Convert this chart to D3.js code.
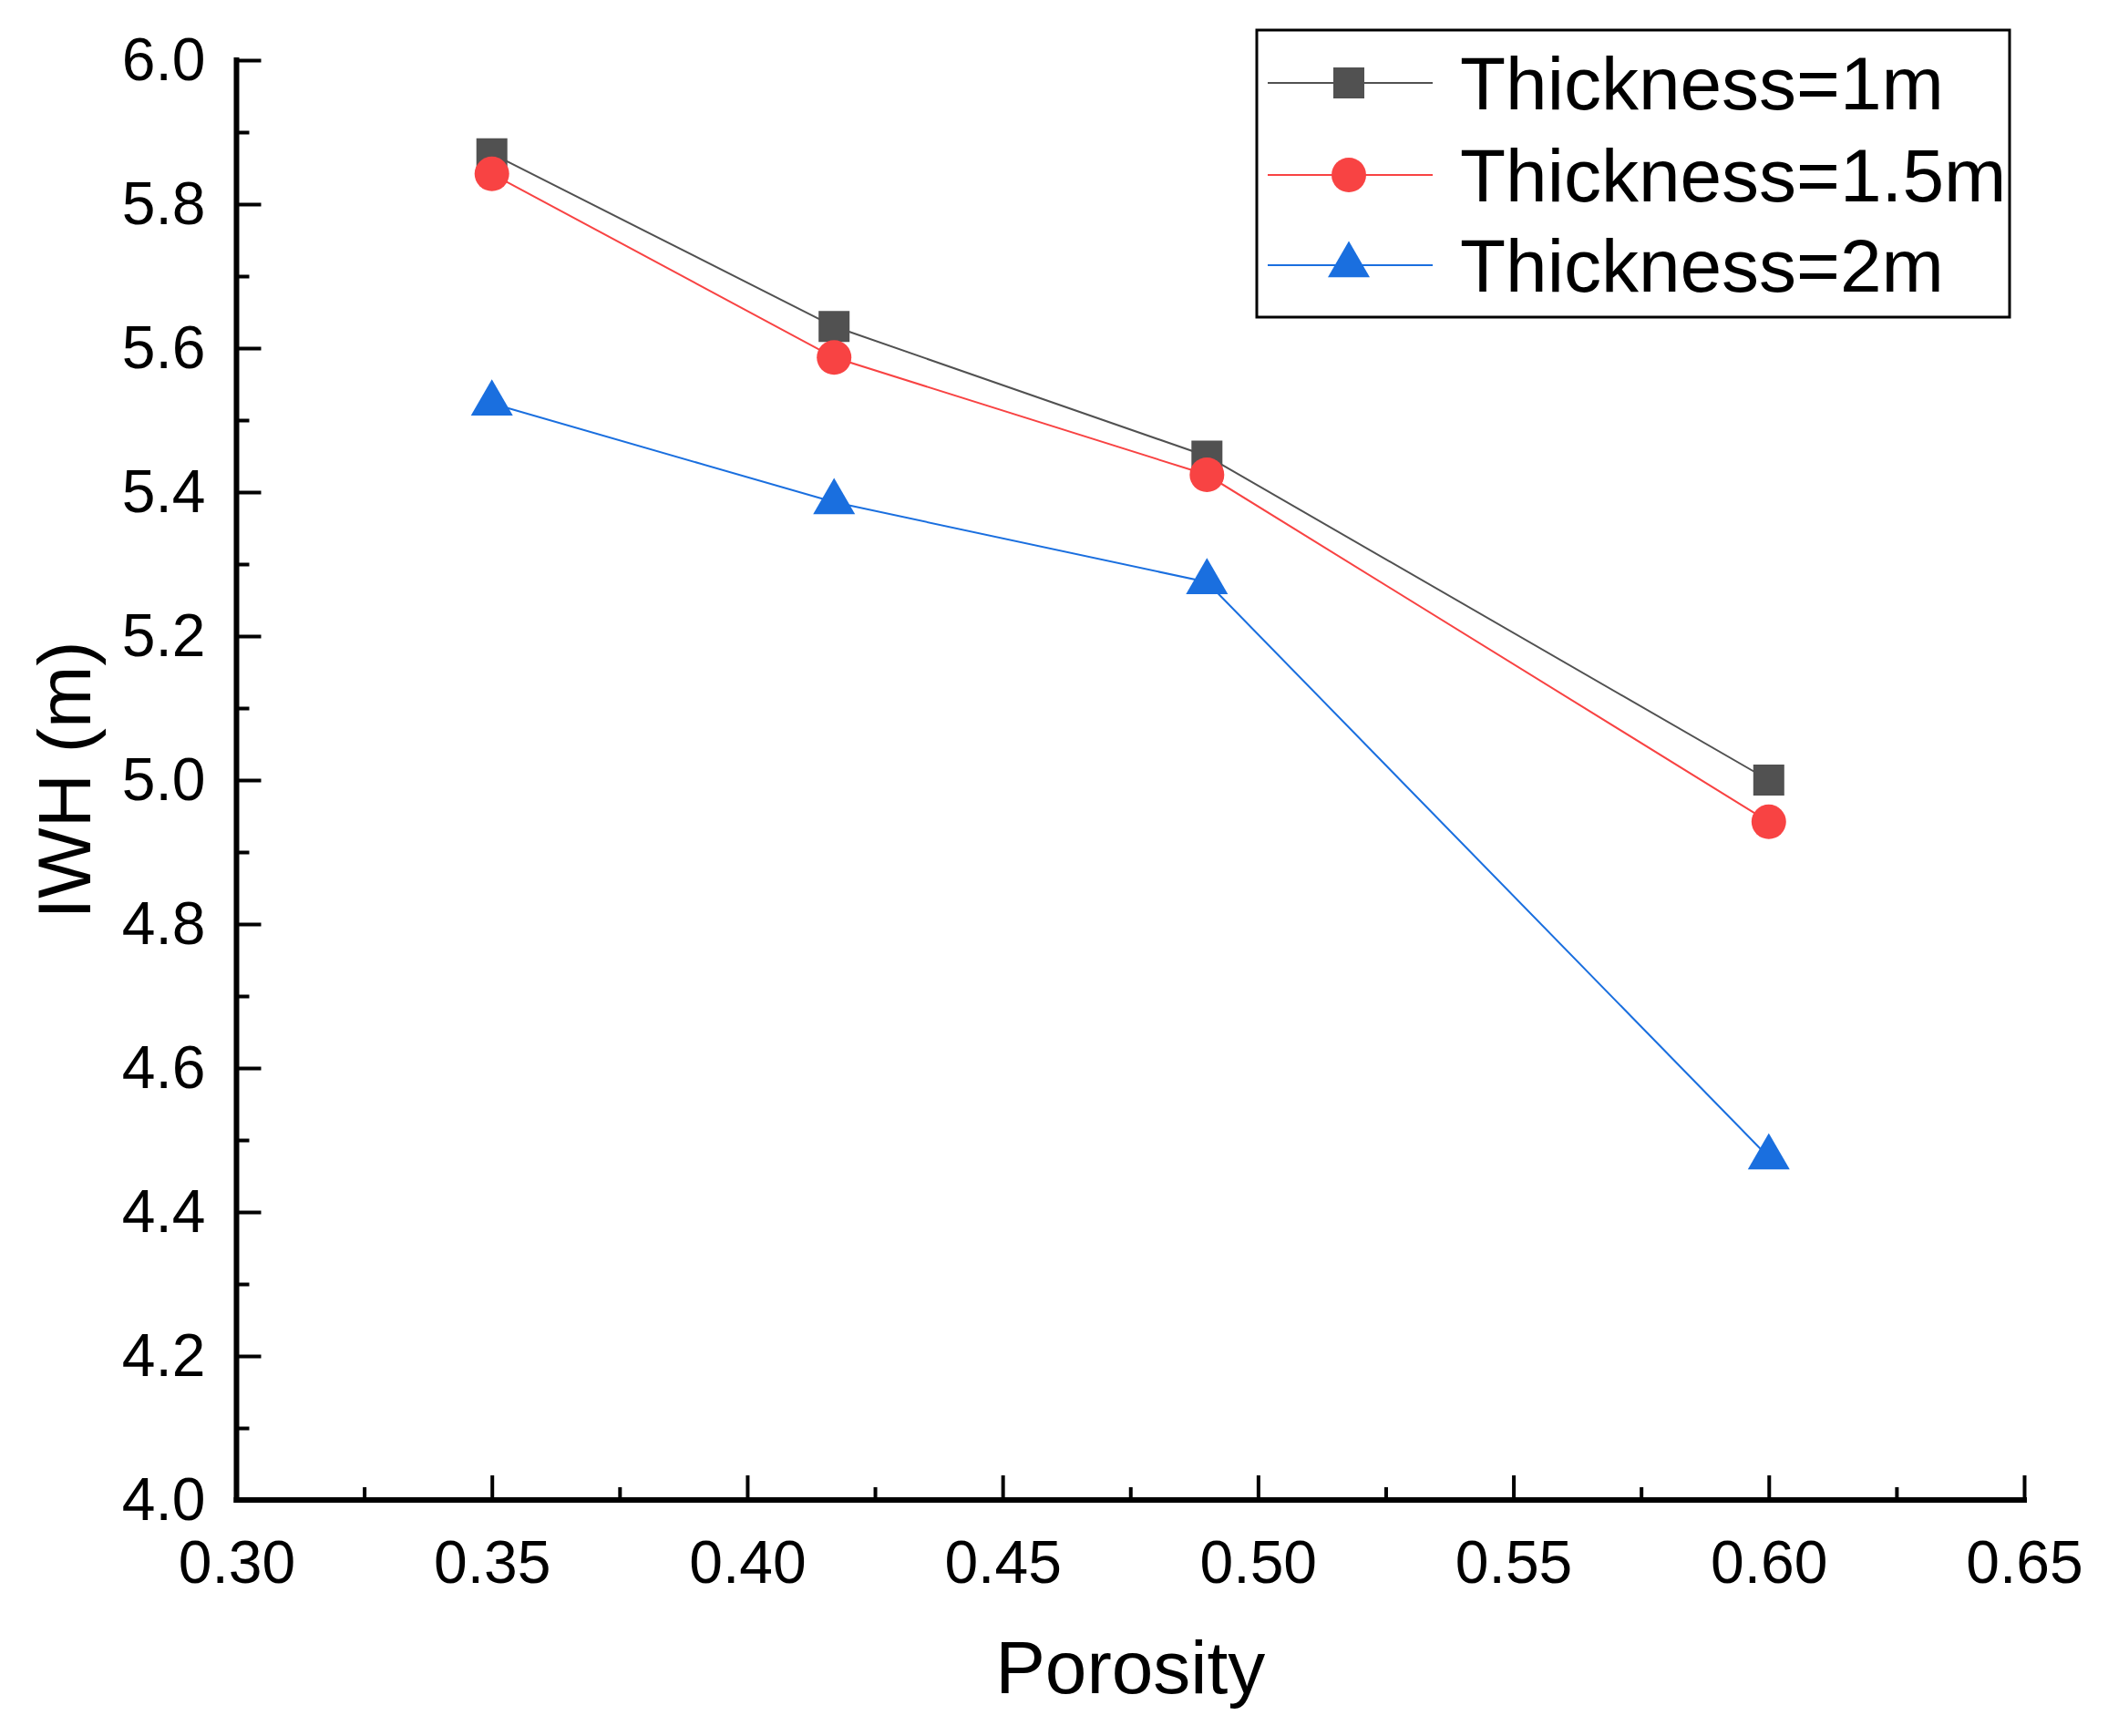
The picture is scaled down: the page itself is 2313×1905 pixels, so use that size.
<!DOCTYPE html>
<html>
<head>
<meta charset="utf-8">
<script src="https://cdn.jsdelivr.net/npm/d3@7"></script>
<style>
  body { margin: 0; background: #fff; }
  text { font-family: 'Liberation Sans', Arial, sans-serif; fill: #000; }
</style>
</head>
<body>
<svg id="chart"></svg>
<script>
const porosity = [0.35, 0.417, 0.49, 0.6];
const thickness1 = [5.87, 5.63, 5.45, 5.0];
const thickness15 = [5.842, 5.587, 5.424, 4.942];
const thickness2 = [5.523, 5.386, 5.275, 4.476];
const seriesNames = ['Thickness=1m', 'Thickness=1.5m', 'Thickness=2m'];
const seriesColors = ['#515151', '#F84343', '#1A6FDF'];
const xTicks = [0.3, 0.35, 0.4, 0.45, 0.5, 0.55, 0.6, 0.65];
const xMinor = [0.325, 0.375, 0.425, 0.475, 0.525, 0.575, 0.625];
const yTicks = [4.0, 4.2, 4.4, 4.6, 4.8, 5.0, 5.2, 5.4, 5.6, 5.8, 6.0];
const yMinor = [4.1, 4.3, 4.5, 4.7, 4.9, 5.1, 5.3, 5.5, 5.7, 5.9];

const width = 2313;
const height = 1905;
const padding = { top: 66, right: 92, bottom: 259, left: 259.5 };

const svg = d3.select('#chart').attr('width', width).attr('height', height);

const xScale = d3
  .scaleLinear()
  .domain([0.3, 0.65])
  .range([padding.left, width - padding.right]);

const yScale = d3
  .scaleLinear()
  .domain([4.0, 6.0])
  .range([height - padding.bottom, padding.top]);

const bottomY = height - padding.bottom;

// minor ticks first, then the major axes on top
const xMinorAxis = d3.axisBottom(xScale).tickValues(xMinor).tickSize(-14).tickFormat('');
const yMinorAxis = d3.axisLeft(yScale).tickValues(yMinor).tickSize(-14).tickFormat('');

svg.append('g').attr('transform', 'translate(0,' + bottomY + ')').call(xMinorAxis);
svg.append('g').attr('transform', 'translate(' + padding.left + ',0)').call(yMinorAxis);

const xAxis = d3
  .axisBottom(xScale)
  .tickValues(xTicks)
  .tickSizeInner(-27)
  .tickSizeOuter(0)
  .tickPadding(0)
  .tickFormat(d3.format('.2f'));

const yAxis = d3
  .axisLeft(yScale)
  .tickValues(yTicks)
  .tickSizeInner(-27)
  .tickSizeOuter(0)
  .tickPadding(0)
  .tickFormat(d3.format('.1f'));

const gx = svg.append('g').attr('transform', 'translate(0,' + bottomY + ')').call(xAxis);
const gy = svg.append('g').attr('transform', 'translate(' + padding.left + ',0)').call(yAxis);

svg.selectAll('.tick line').attr('stroke', '#000').attr('stroke-width', 4);
svg.selectAll('.domain').attr('stroke', 'none');

gx.selectAll('.tick text')
  .attr('y', 91)
  .attr('dy', 0)
  .style('font-size', '66px');

gy.selectAll('.tick text')
  .attr('x', -34)
  .attr('dy', 21)
  .style('font-size', '66px');

// axis lines
svg.append('line')
  .attr('x1', padding.left).attr('x2', width - padding.right)
  .attr('y1', bottomY).attr('y2', bottomY)
  .attr('stroke', '#000').attr('stroke-width', 6).attr('stroke-linecap', 'square');
svg.append('line')
  .attr('x1', padding.left).attr('x2', padding.left)
  .attr('y1', padding.top).attr('y2', bottomY)
  .attr('stroke', '#000').attr('stroke-width', 6).attr('stroke-linecap', 'square');

// axis titles
svg.append('text')
  .attr('x', (padding.left + width - padding.right) / 2)
  .attr('y', 1858)
  .style('text-anchor', 'middle')
  .style('font-size', '82px')
  .text('Porosity');

svg.append('text')
  .attr('transform', 'rotate(-90)')
  .attr('x', -(padding.top + bottomY) / 2)
  .attr('y', 99)
  .style('text-anchor', 'middle')
  .style('font-size', '82px')
  .text('IWH (m)');

const symbols = [
  d3.symbol().type(d3.symbolSquare).size(34 * 34),
  d3.symbol().type(d3.symbolCircle).size(Math.PI * 19 * 19),
  d3.symbol().type(d3.symbolTriangle).size(46 * 46 * Math.sqrt(3) / 4),
];

const allSeries = [thickness1, thickness15, thickness2];

const line = d3
  .line()
  .x((d, i) => xScale(porosity[i]))
  .y(d => yScale(d));

allSeries.forEach((values, s) => {
  svg.append('path')
    .attr('d', line(values))
    .attr('fill', 'none')
    .attr('stroke', seriesColors[s])
    .attr('stroke-width', 2);

  svg.selectAll('.pt' + s)
    .data(values)
    .enter()
    .append('path')
    .attr('class', 'pt' + s)
    .attr('d', symbols[s])
    .attr('transform', (d, i) => 'translate(' + xScale(porosity[i]) + ',' + yScale(d) + ')')
    .attr('fill', seriesColors[s]);
});

// legend
const legend = svg.append('g');
legend.append('rect')
  .attr('x', 1379).attr('y', 33)
  .attr('width', 826).attr('height', 315)
  .attr('fill', '#fff').attr('stroke', '#000').attr('stroke-width', 3);

const rowY = [91, 192, 291];
seriesNames.forEach((name, s) => {
  legend.append('line')
    .attr('x1', 1391).attr('x2', 1572)
    .attr('y1', rowY[s]).attr('y2', rowY[s])
    .attr('stroke', seriesColors[s]).attr('stroke-width', 2);
  legend.append('path')
    .attr('d', symbols[s])
    .attr('transform', 'translate(1480,' + rowY[s] + ')')
    .attr('fill', seriesColors[s]);
  legend.append('text')
    .attr('x', 1602)
    .attr('y', rowY[s] + 29)
    .style('font-size', '82px')
    .text(name);
});
</script>
</body>
</html>
